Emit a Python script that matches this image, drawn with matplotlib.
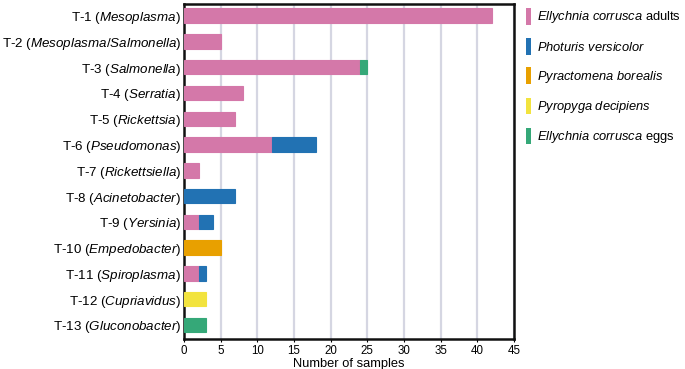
import matplotlib
matplotlib.use("Agg")
import matplotlib.pyplot as plt
from matplotlib.patches import Patch
import numpy as np

plt.rcParams['font.family'] = ['Liberation Sans', 'DejaVu Sans']
plt.rcParams['mathtext.fontset'] = 'custom'
plt.rcParams['mathtext.rm'] = 'Liberation Sans'
plt.rcParams['mathtext.it'] = 'Liberation Sans:italic'

categories = ["T-1", "T-2", "T-3", "T-4", "T-5", "T-6", "T-7",
              "T-8", "T-9", "T-10", "T-11", "T-12", "T-13"]
genera = ["Mesoplasma", "Mesoplasma/Salmonella", "Salmonella", "Serratia",
          "Rickettsia", "Pseudomonas", "Rickettsiella", "Acinetobacter",
          "Yersinia", "Empedobacter", "Spiroplasma", "Cupriavidus", "Gluconobacter"]

series_italic = ["Ellychnia corrusca", "Photuris versicolor", "Pyractomena borealis",
                 "Pyropyga decipiens", "Ellychnia corrusca"]
series_suffix = [" adults", "", "", "", " eggs"]

e_corrusca_adults = [42, 5, 24, 8, 7, 12, 2, 0, 2, 0, 2, 0, 0]
photuris_versicolor = [0, 0, 0, 0, 0, 6, 0, 7, 2, 0, 1, 0, 0]
pyractomena_borealis = [0, 0, 0, 0, 0, 0, 0, 0, 0, 5, 0, 0, 0]
pyropyga_decipiens = [0, 0, 0, 0, 0, 0, 0, 0, 0, 0, 0, 3, 0]
e_corrusca_eggs = [0, 0, 1, 0, 0, 0, 0, 0, 0, 0, 0, 0, 3]

series = [e_corrusca_adults, photuris_versicolor, pyractomena_borealis,
          pyropyga_decipiens, e_corrusca_eggs]
colors = ["#D478A9", "#2272B3", "#E8A000", "#F2E33E", "#35A878"]

fig = plt.figure(figsize=(6.85, 3.69), dpi=100)
ax = fig.add_axes([0.2686, 0.081, 0.4818, 0.908])

y = np.arange(len(categories))
left = np.zeros(len(categories))
for vals, c in zip(series, colors):
    v = np.array(vals, dtype=float)
    m = v > 0
    ax.barh(y[m], v[m], left=left[m], height=0.56, color=c, edgecolor=c,
            linewidth=0.8, zorder=3)
    left += v

ax.set_xlim(0, 45)
ax.set_ylim(12.55, -0.45)
ax.set_xticks(np.arange(0, 46, 5))
ax.tick_params(axis='x', labelsize=8.3, length=2.5, width=0.8, pad=2)
ax.tick_params(axis='y', length=0, pad=2, labelsize=9.6)
ax.set_yticks(y)
labels = []
for cat, g in zip(categories, genera):
    gm = g.replace(" ", r"\ ")
    labels.append(cat + r" ($\mathit{" + gm + r"}$)")
ax.set_yticklabels(labels)
ax.grid(axis='x', color='#D5D6E2', linewidth=1.6, zorder=0)
ax.set_axisbelow(True)
for s in ax.spines.values():
    s.set_linewidth(1.8)
    s.set_color('#111111')
ax.set_xlabel("Number of samples", fontsize=9.3, va='center')
ax.xaxis.set_label_coords(0.5, -0.074)

handles = [Patch(facecolor=c, edgecolor='none') for c in colors]
leg_labels = []
for it, suf in zip(series_italic, series_suffix):
    leg_labels.append(r"$\mathit{" + it.replace(" ", r"\ ") + r"}$" + suf)
fig.legend(handles, leg_labels, loc='upper left', bbox_to_anchor=(0.755, 1.003),
           frameon=False, fontsize=9.3, handlelength=0.35, handleheight=1.6,
           handletextpad=0.45, labelspacing=0.98, borderaxespad=0.3)

fig.savefig("out.png", dpi=100)
